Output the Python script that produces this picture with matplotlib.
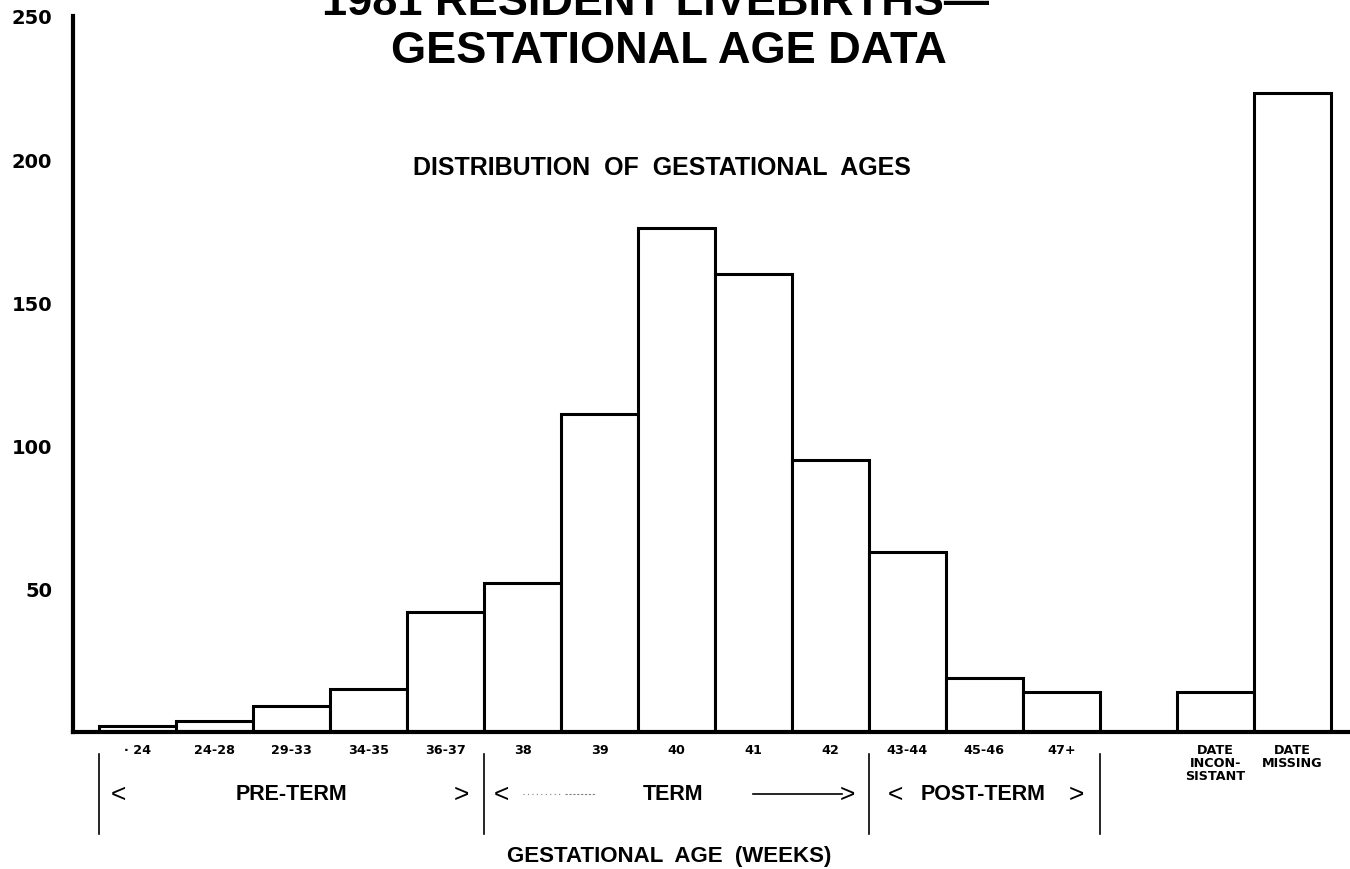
import matplotlib
matplotlib.use("Agg")
import matplotlib.pyplot as plt
from matplotlib.transforms import blended_transform_factory

# chart data
age_labels = ["· 24", "24-28", "29-33", "34-35", "36-37", "38", "39", "40",
              "41", "42", "43-44", "45-46", "47+"]
age_counts = [2, 4, 9, 15, 42, 52, 111, 176, 160, 95, 63, 19, 14]
date_labels = ["DATE\nINCON-\nSISTANT", "DATE\nMISSING"]
date_counts = [14, 223]
y_ticks = [50, 100, 150, 200, 250]

plt.rcParams['font.family'] = ['Liberation Sans', 'DejaVu Sans']

W, H = 1350, 870
fig = plt.figure(figsize=(W / 100, H / 100), dpi=100)
ax = fig.add_axes([73 / W, 137 / H, 1277 / W, 716 / H])

# bars: gestational ages at 0..12, one empty slot, then the date bars
age_x = list(range(len(age_counts)))
date_x = [len(age_counts) + 1 + i for i in range(len(date_counts))]
ax.bar(age_x, age_counts, width=1, color='white', edgecolor='black', linewidth=2.2)
ax.bar(date_x, date_counts, width=1, color='white', edgecolor='black', linewidth=2.2)

ax.set_xlim(-0.84, 15.75)
ax.set_ylim(0, 250)

for s in ['top', 'right']:
    ax.spines[s].set_visible(False)
ax.spines['left'].set_linewidth(3)
ax.spines['bottom'].set_linewidth(3)

ax.set_yticks(y_ticks)
ax.set_yticklabels([str(v) for v in y_ticks], family='DejaVu Sans',
                   fontweight='bold', fontsize=14)
ax.tick_params(axis='y', length=0, pad=15)

ax.set_xticks(age_x + date_x)
ax.set_xticklabels(age_labels + date_labels, family='DejaVu Sans',
                   fontweight='bold', fontsize=9.2, linespacing=1.0)
ax.tick_params(axis='x', length=0, pad=8)

# bracket annotations below the axis
tr = blended_transform_factory(ax.transData, ax.transAxes)


def fy(py):
    return (733 - py) / 716


for bx in [-0.5, 4.5, 9.5, 12.5]:
    ax.plot([bx, bx], [fy(755), fy(835)], color='black', lw=1.2,
            transform=tr, clip_on=False)

gy = fy(795)
arrow_kw = dict(transform=tr, fontsize=19, ha='center', va='center')
ax.text(-0.25, gy, "<", **arrow_kw)
ax.text(2.0, gy, "PRE-TERM", transform=tr, fontsize=15.5, fontweight='bold',
        ha='center', va='center')
ax.text(4.2, gy, ">", **arrow_kw)

ax.text(4.72, gy, "<", **arrow_kw)
ax.plot([5.0, 5.5], [gy, gy], color='gray', lw=0.8, ls=(0, (1, 3)),
        transform=tr, clip_on=False)
ax.plot([5.55, 5.95], [gy, gy], color='gray', lw=0.8, ls=(0, (2, 1.5)),
        transform=tr, clip_on=False)
ax.text(6.95, gy, "TERM", transform=tr, fontsize=15.5, fontweight='bold',
        ha='center', va='center')
ax.plot([8.0, 9.15], [gy, gy], color='black', lw=1.2, transform=tr, clip_on=False)
ax.text(9.22, gy, ">", **arrow_kw)

ax.text(9.85, gy, "<", **arrow_kw)
ax.text(10.98, gy, "POST-TERM", transform=tr, fontsize=15.5, fontweight='bold',
        ha='center', va='center')
ax.text(12.2, gy, ">", **arrow_kw)

# titles (the first line is cut off at the top edge, as in the scan)
fig.text(655 / W, 1 - 15 / H, "1981 RESIDENT LIVEBIRTHS—", fontsize=32.5,
         fontweight='bold', ha='center', va='baseline')
fig.text(669 / W, 1 - 63 / H, "GESTATIONAL AGE DATA", fontsize=32.5,
         fontweight='bold', ha='center', va='baseline')
fig.text(662 / W, 1 - 168 / H, "DISTRIBUTION  OF  GESTATIONAL  AGES", fontsize=18,
         fontweight='bold', ha='center', va='center')
fig.text(669 / W, 1 - 857 / H, "GESTATIONAL  AGE  (WEEKS)", fontsize=16,
         fontweight='bold', ha='center', va='center')

fig.savefig("out.png", dpi=100)
